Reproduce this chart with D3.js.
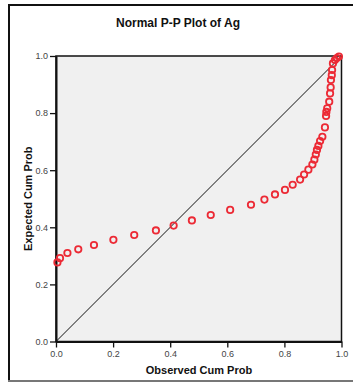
<!DOCTYPE html>
<html>
<head>
<meta charset="utf-8">
<script src="https://cdn.jsdelivr.net/npm/d3@7"></script>
<style>
  html, body { margin: 0; padding: 0; background: #ffffff; }
  svg { display: block; font-family: "Liberation Sans", Arial, sans-serif; }
</style>
</head>
<body>
<svg id="chart" width="353" height="385"></svg>
<script>
// Observed vs expected cumulative probabilities for Ag
const observedCum = [0.005, 0.014, 0.040, 0.078, 0.133, 0.201, 0.274, 0.350, 0.412, 0.476,
  0.542, 0.610, 0.683, 0.730, 0.767, 0.802, 0.829, 0.855, 0.869, 0.884,
  0.898, 0.905, 0.910, 0.914, 0.919, 0.925, 0.933, 0.942, 0.946, 0.947,
  0.950, 0.957, 0.960, 0.962, 0.963, 0.966, 0.967, 0.970, 0.977, 0.984, 0.991];
const expectedCum = [0.277, 0.292, 0.310, 0.323, 0.338, 0.356, 0.373, 0.389, 0.406, 0.424,
  0.443, 0.461, 0.479, 0.497, 0.515, 0.531, 0.549, 0.567, 0.585, 0.602,
  0.620, 0.637, 0.655, 0.671, 0.685, 0.702, 0.717, 0.750, 0.790, 0.804,
  0.817, 0.840, 0.869, 0.890, 0.916, 0.933, 0.951, 0.974, 0.986, 0.993, 0.998];
const tickValues = [0.0, 0.2, 0.4, 0.6, 0.8, 1.0];
const titleText = "Normal P-P Plot of Ag";
const xLabel = "Observed Cum Prob";
const yLabel = "Expected Cum Prob";

const svg = d3.select("#chart");
const plot = { left: 56, top: 56, right: 341.5, bottom: 341.5 };

const x = d3.scaleLinear().domain([0, 1]).range([plot.left, plot.right]);
const y = d3.scaleLinear().domain([0, 1]).range([plot.bottom, plot.top]);

// outer frame
svg.append("line").attr("x1", 9).attr("y1", 4).attr("x2", 9).attr("y2", 381)
  .attr("stroke", "#111").attr("stroke-width", 2);
svg.append("line").attr("x1", 8).attr("y1", 5).attr("x2", 353).attr("y2", 5)
  .attr("stroke", "#111").attr("stroke-width", 2);
svg.append("line").attr("x1", 8).attr("y1", 381).attr("x2", 353).attr("y2", 381)
  .attr("stroke", "#777").attr("stroke-width", 2);

// title
svg.append("text").attr("x", 178).attr("y", 27)
  .attr("text-anchor", "middle").attr("font-weight", "bold").attr("font-size", 12)
  .attr("fill", "#111").text(titleText);

// plot background
svg.append("rect")
  .attr("x", plot.left).attr("y", plot.top)
  .attr("width", plot.right - plot.left).attr("height", plot.bottom - plot.top)
  .attr("fill", "#f0f0f0").attr("stroke", "#111").attr("stroke-width", 1.5);

// axes
const xAxis = d3.axisBottom(x).tickValues(tickValues).tickFormat(d3.format(".1f"))
  .tickSizeOuter(0).tickSizeInner(6).tickPadding(3);
const yAxis = d3.axisLeft(y).tickValues(tickValues).tickFormat(d3.format(".1f"))
  .tickSizeOuter(0).tickSizeInner(6).tickPadding(2);

const gx = svg.append("g").attr("transform", `translate(0,${plot.bottom})`).call(xAxis);
const gy = svg.append("g").attr("transform", `translate(${plot.left},0)`).call(yAxis);
[gx, gy].forEach(g => {
  g.select(".domain").attr("stroke", "#111").attr("stroke-width", 2);
  g.selectAll(".tick line").attr("stroke", "#111").attr("stroke-width", 1.3);
  g.selectAll(".tick text").attr("fill", "#444").attr("font-size", 9)
    .attr("font-family", "'Liberation Sans', Arial, sans-serif");
});

// reference diagonal
svg.append("line")
  .attr("x1", x(0)).attr("y1", y(0)).attr("x2", x(1)).attr("y2", y(1))
  .attr("stroke", "#111").attr("stroke-width", 1);

// points
const pts = observedCum.map((o, i) => ({ o, e: expectedCum[i] }));
svg.append("g").selectAll("circle").data(pts).join("circle")
  .attr("cx", d => x(d.o)).attr("cy", d => y(d.e)).attr("r", 3.2)
  .attr("fill", "none").attr("stroke", "#ec2a35").attr("stroke-width", 1.8);

// axis titles
svg.append("text").attr("x", 199).attr("y", 374)
  .attr("text-anchor", "middle").attr("font-weight", "bold").attr("font-size", 11)
  .attr("fill", "#111").text(xLabel);
svg.append("text")
  .attr("transform", `translate(32,${(plot.top + plot.bottom) / 2}) rotate(-90)`)
  .attr("text-anchor", "middle").attr("font-weight", "bold").attr("font-size", 11)
  .attr("fill", "#111").text(yLabel);
</script>
</body>
</html>
